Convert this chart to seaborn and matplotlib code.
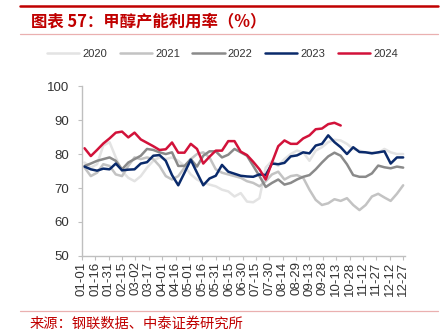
import numpy as np
import pandas as pd
import matplotlib
matplotlib.use("Agg")
import matplotlib.pyplot as plt
import seaborn as sns

# ---------------- data ----------------
years = ["2020", "2021", "2022", "2023", "2024"]
tick_labels = ["01-01", "01-16", "01-31", "02-15", "03-02", "03-17", "04-01", "04-16",
               "05-01", "05-16", "05-31", "06-15", "06-30", "07-15", "07-30", "08-14",
               "08-29", "09-13", "09-28", "10-13", "10-28", "11-12", "11-27", "12-12", "12-27"]

v2020 = [77.5, 76.0, 77.0, 82.5, 83.5, 79.0, 75.0, 73.0, 72.0, 73.5,
         76.0, 78.0, 79.0, 78.5, 79.0, 78.0, 76.5, 74.0, 72.5, 71.5,
         71.0, 70.5, 69.5, 69.0, 67.5, 68.5, 66.0, 65.8, 67.0, 76.0,
         78.0, 76.5, 78.5, 80.0, 81.0, 80.5, 78.0, 81.0, 82.0, 83.5,
         84.2, 84.0, 83.0, 81.5, 81.0, 80.5, 80.5, 80.3, 81.5, 80.5,
         80.0, 80.0]
v2021 = [76.0, 73.5, 74.5, 77.0, 76.5, 74.0, 73.5, 76.5, 79.0, 78.5,
         79.0, 78.5, 76.5, 73.5, 72.5, 73.5, 76.0, 78.5, 80.0, 80.5,
         79.0, 75.5, 74.5, 74.0, 73.5, 73.0, 72.0, 71.5, 70.5, 72.0,
         74.0, 74.8, 72.5, 73.5, 73.8, 73.0, 69.5, 66.5, 65.0, 65.5,
         66.7, 66.2, 67.0, 65.0, 63.5, 65.0, 67.5, 68.3, 67.2, 66.2,
         68.3, 70.8]
v2022 = [76.5, 77.2, 78.0, 78.5, 79.0, 78.0, 75.5, 77.5, 78.5, 79.5,
         81.5, 81.2, 80.5, 80.0, 80.5, 76.5, 76.5, 78.5, 76.3, 79.5,
         80.8, 80.8, 79.0, 79.8, 81.5, 80.5, 79.5, 76.5, 73.5, 70.3,
         71.5, 72.5, 71.0, 71.5, 72.5, 73.3, 73.8, 75.5, 77.5, 79.3,
         80.4, 79.5, 77.0, 73.8, 73.3, 73.3, 74.3, 76.6, 76.1, 75.8,
         76.3, 76.0]
v2023 = [76.3, 75.5, 75.1, 75.7, 75.5, 77.2, 75.2, 75.4, 75.5, 77.2,
         77.6, 79.5, 79.7, 78.0, 73.8, 70.8, 74.5, 78.3, 74.5, 70.8,
         72.8, 73.6, 76.8, 74.8, 74.2, 73.6, 73.4, 73.3, 74.0, 73.8,
         77.2, 77.0, 77.4, 79.3, 79.6, 80.5, 80.2, 82.5, 83.0, 85.5,
         83.5, 82.0, 80.0, 82.0, 80.6, 80.5, 80.2, 80.5, 80.8, 77.2,
         79.0, 79.0]
v2024 = [81.7, 79.4, 81.2, 83.1, 84.6, 86.3, 86.6, 84.9, 86.3, 84.3,
         83.3, 82.3, 81.2, 81.4, 83.4, 80.4, 80.4, 83.0, 81.5, 77.2,
         79.2, 81.0, 81.0, 83.8, 83.8, 80.7, 79.7, 77.7, 75.5, 72.5,
         77.5, 82.3, 84.0, 83.0, 83.0, 84.6, 85.5, 87.3, 87.5, 88.8,
         89.2, 88.4]

series = dict(zip(years, [v2020, v2021, v2022, v2023, v2024]))
colors = {"2020": "#e3e3e3", "2021": "#c3c3c3", "2022": "#8a8a8a",
          "2023": "#0a2a6b", "2024": "#d2123a"}

rows = []
for y, vals in series.items():
    dates = pd.date_range("2021-01-04", periods=len(vals), freq="7D")
    days = dates.dayofyear - 1
    for d, v in zip(days, vals):
        rows.append({"year": y, "day": d, "value": v})
df = pd.DataFrame(rows)

# ---------------- plot ----------------
sns.set_theme(style="white")
plt.rcParams["font.family"] = ["Liberation Sans", "Noto Sans CJK SC", "DejaVu Sans"]

fig = plt.figure(figsize=(4.45, 3.35), dpi=100)
ax = fig.add_axes([0.184, 0.236, 0.726, 0.507])

sns.lineplot(data=df, x="day", y="value", hue="year", hue_order=years,
             palette=colors, linewidth=1.8, ax=ax, legend=True, sort=False)

ax.set_xlim(0, 362)
ax.set_ylim(50, 100)
ax.set_yticks(np.arange(50, 101, 10))
ax.set_xticks(np.arange(len(tick_labels)) * 15)
ax.set_xticklabels(tick_labels, rotation=90)
ax.set_xlabel("")
ax.set_ylabel("")
ax.tick_params(axis="y", labelsize=9.5, colors="#333333", length=3, width=0.8,
               left=True, direction="out", pad=6)
ax.tick_params(axis="x", labelsize=9.5, colors="#333333", length=3, width=0.8,
               bottom=True, direction="out", pad=1)
for s in ["top", "right"]:
    ax.spines[s].set_visible(False)
for s in ["left", "bottom"]:
    ax.spines[s].set_color("#bfbfbf")
    ax.spines[s].set_linewidth(1.0)
ax.tick_params(axis="both", color="#bfbfbf")

handles, labels = ax.get_legend_handles_labels()
ax.get_legend().remove()
fig.legend(handles, labels, loc="center", bbox_to_anchor=(0.5, 0.839), ncol=5,
           frameon=False, fontsize=8, handlelength=2.9, handletextpad=0.3,
           columnspacing=1.1, labelcolor="#333333")

# decorations
fig.add_artist(plt.Line2D([20 / 445, 438 / 445], [1 - 6 / 335, 1 - 6 / 335],
                          color="#c00000", linewidth=1.8))
fig.add_artist(plt.Line2D([20 / 445, 438 / 445], [1 - 33.5 / 335, 1 - 33.5 / 335],
                          color="#eab0b0", linewidth=0.9))
fig.add_artist(plt.Line2D([20 / 445, 438 / 445], [1 - 310.5 / 335, 1 - 310.5 / 335],
                          color="#eab0b0", linewidth=0.9))
fig.text(31 / 445, 1 - 21 / 335, "图表 57：甲醇产能利用率（%）", color="#c00000",
         fontsize=11.8, fontweight="bold", va="center", ha="left",
         family=["Noto Sans CJK SC", "DejaVu Sans"])
fig.text(30 / 445, 1 - 324 / 335, "来源：钢联数据、中泰证券研究所", color="#c00000",
         fontsize=10.3, va="center", ha="left",
         family=["Noto Sans CJK SC", "DejaVu Sans"])

fig.savefig("out.png", dpi=100)
